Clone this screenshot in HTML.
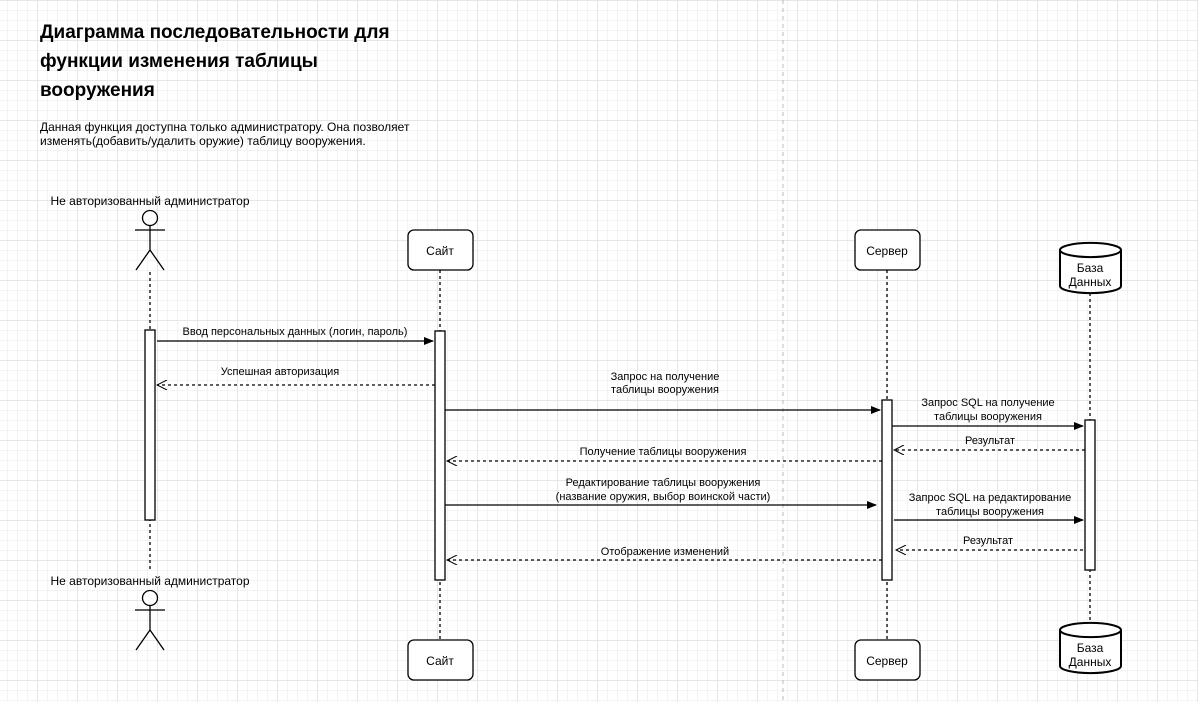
<!DOCTYPE html>
<html><head><meta charset="utf-8"><style>
html,body{margin:0;padding:0;background:#fff;}
body{width:1198px;height:702px;overflow:hidden;
background-image:
linear-gradient(to right,#e6e6e6 1px,transparent 1px),
linear-gradient(to bottom,#e6e6e6 1px,transparent 1px),
linear-gradient(to right,#f3f3f3 1px,transparent 1px),
linear-gradient(to bottom,#f3f3f3 1px,transparent 1px);
background-size:40px 40px,40px 40px,10px 10px,10px 10px;
background-position:-3px 0,0 0,-3px 0,0 0;}
svg{position:absolute;left:0;top:0;font-family:"Liberation Sans",sans-serif;}
</style></head><body>
<svg width="1198" height="702" viewBox="0 0 1198 702">
<defs>
<marker id="f" markerWidth="10" markerHeight="8" refX="9" refY="4" orient="auto" markerUnits="userSpaceOnUse"><path d="M0,0 L10,4 L0,8 z" fill="#000"/></marker>
<marker id="o" markerWidth="12" markerHeight="10" refX="11" refY="5" orient="auto" markerUnits="userSpaceOnUse"><path d="M1,0 L11,5 L1,10" fill="none" stroke="#000"/></marker>
</defs>
<line x1="783" y1="0" x2="783" y2="702" stroke="#bbb" stroke-dasharray="4 4"/>
<g font-weight="bold" font-size="19">
<text x="40" y="38">Диаграмма последовательности для</text>
<text x="40" y="67">функции изменения таблицы</text>
<text x="40" y="96">вооружения</text>
</g>
<g font-size="12">
<text x="40" y="131">Данная функция доступна только администратору. Она позволяет</text>
<text x="40" y="145">изменять(добавить/удалить оружие) таблицу вооружения.</text>
</g>
<g stroke="#000" fill="none" stroke-width="1.3">
<line x1="150" y1="272" x2="150" y2="572" stroke-dasharray="3 3"/>
<line x1="440" y1="270" x2="440" y2="640" stroke-dasharray="3 3"/>
<line x1="887" y1="270" x2="887" y2="640" stroke-dasharray="3 3"/>
<line x1="1090" y1="293" x2="1090" y2="623" stroke-dasharray="3 3"/>
<circle cx="150" cy="218" r="7.5" fill="#fff"/>
<line x1="150" y1="226" x2="150" y2="250"/><line x1="135" y1="230" x2="165" y2="230"/>
<path d="M136,270 L150,250 L164,270"/>
<circle cx="150" cy="598" r="7.5" fill="#fff"/>
<line x1="150" y1="606" x2="150" y2="630"/><line x1="135" y1="610" x2="165" y2="610"/>
<path d="M136,650 L150,630 L164,650"/>
<rect x="408" y="230" width="65" height="40" rx="6" fill="#fff"/>
<rect x="855" y="230" width="65" height="40" rx="6" fill="#fff"/>
<rect x="408" y="640" width="65" height="40" rx="6" fill="#fff"/>
<rect x="855" y="640" width="65" height="40" rx="6" fill="#fff"/>
<path d="M1060,250 v36 a30,7 0 0 0 61,0 v-36 a30,7 0 0 0 -61,0 a30,7 0 0 0 61,0" fill="#fff" stroke-width="2"/>
<path d="M1060,630 v36 a30,7 0 0 0 61,0 v-36 a30,7 0 0 0 -61,0 a30,7 0 0 0 61,0" fill="#fff" stroke-width="2"/>
<rect x="145" y="330" width="10" height="190" fill="#fff"/>
<rect x="435" y="331" width="10" height="249" fill="#fff"/>
<rect x="882" y="400" width="10" height="180" fill="#fff"/>
<rect x="1085" y="420" width="10" height="150" fill="#fff"/>
<line x1="157" y1="341" x2="433" y2="341" marker-end="url(#f)"/>
<line x1="435" y1="385" x2="157" y2="385" stroke-dasharray="3 3" marker-end="url(#o)"/>
<line x1="445" y1="410" x2="880" y2="410" marker-end="url(#f)"/>
<line x1="892" y1="426" x2="1083" y2="426" marker-end="url(#f)"/>
<line x1="1085" y1="450" x2="894" y2="450" stroke-dasharray="3 3" marker-end="url(#o)"/>
<line x1="882" y1="461" x2="447" y2="461" stroke-dasharray="3 3" marker-end="url(#o)"/>
<line x1="445" y1="505" x2="876" y2="505" marker-end="url(#f)"/>
<line x1="894" y1="520" x2="1083" y2="520" marker-end="url(#f)"/>
<line x1="1083" y1="550" x2="896" y2="550" stroke-dasharray="3 3" marker-end="url(#o)"/>
<line x1="882" y1="560" x2="447" y2="560" stroke-dasharray="3 3" marker-end="url(#o)"/>
</g>
<g font-size="12" text-anchor="middle">
<text x="150" y="205">Не авторизованный администратор</text>
<text x="150" y="585">Не авторизованный администратор</text>
<text x="440" y="255">Сайт</text><text x="887" y="255">Сервер</text>
<text x="440" y="665">Сайт</text><text x="887" y="665">Сервер</text>
<text x="1090" y="272">База</text><text x="1090" y="286">Данных</text>
<text x="1090" y="652">База</text><text x="1090" y="666">Данных</text>
</g>
<g font-size="11" text-anchor="middle">
<text x="295" y="335">Ввод персональных данных (логин, пароль)</text>
<text x="280" y="375">Успешная авторизация</text>
<text x="665" y="380">Запрос на получение</text><text x="665" y="393">таблицы вооружения</text>
<text x="988" y="406">Запрос SQL на получение</text><text x="988" y="420">таблицы вооружения</text>
<text x="990" y="444">Результат</text>
<text x="663" y="455">Получение таблицы вооружения</text>
<text x="663" y="486">Редактирование таблицы вооружения</text><text x="663" y="500">(название оружия, выбор воинской части)</text>
<text x="990" y="501">Запрос SQL на редактирование</text><text x="990" y="515">таблицы вооружения</text>
<text x="988" y="544">Результат</text>
<text x="665" y="555">Отображение изменений</text>
</g>
</svg>
</body></html>
